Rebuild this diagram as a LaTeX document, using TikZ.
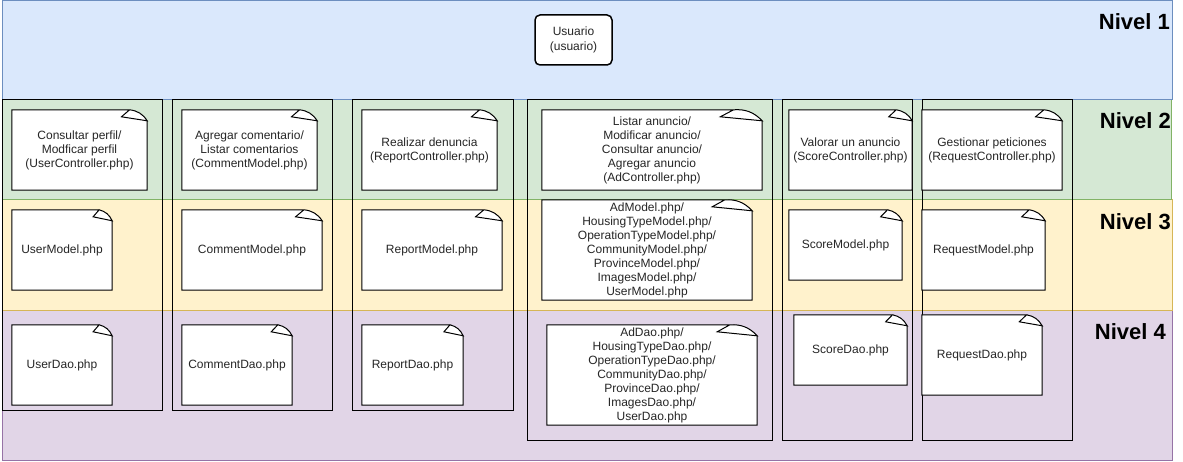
\documentclass[tikz,border=0pt]{standalone}
\usepackage{fontspec}
\setmainfont{Liberation Sans}
\usetikzlibrary{fit,calc}

\definecolor{bandblue}{HTML}{DAE8FC}
\definecolor{lineblue}{HTML}{6C8EBF}
\definecolor{bandgreen}{HTML}{D5E8D4}
\definecolor{linegreen}{HTML}{82B366}
\definecolor{bandyellow}{HTML}{FFF2CC}
\definecolor{lineyellow}{HTML}{D6B656}
\definecolor{bandpurple}{HTML}{E1D5E7}
\definecolor{linepurple}{HTML}{9673A6}

\pgfdeclarelayer{back}
\pgfdeclarelayer{paper}
\pgfsetlayers{back,paper,main}

% page outline with the curled corner, drawn behind the text of the node
\newcommand{\foldnote}[1]{%
  \begin{pgfonlayer}{paper}
  \draw[fill=white, line width=1pt] let \p1=(#1.north west), \p2=(#1.south east),
      \n1={0.13*(\x2-\x1)}, \n2={0.19*(\x2-\x1)} in
    (\x1,\y1) -- ({\x2-\n1},\y1) -- ({\x2-\n2},{\y1-7pt}) -- (\x2,{\y1-11pt})
      -- (\x2,\y2) -- (\x1,\y2) -- cycle
    ({\x2-\n1},\y1) -- ({\x2-\n2},{\y1-7pt}) -- (\x2,{\y1-11pt})
      to[bend right=25] ({\x2-\n1},\y1) -- cycle;
  \end{pgfonlayer}}

\begin{document}
\begin{tikzpicture}[x=1pt, y=-1pt,
    band/.style = {rectangle, inner sep=0, line width=1pt},
    column/.style = {rectangle, draw, inner sep=0, line width=1pt},
    note/.style = {rectangle, inner sep=0, align=center, text=black!85,
      font=\fontsize{12}{14}\selectfont},
    user/.style = {rectangle, draw, fill=white, rounded corners=5pt, line width=1.5pt,
      inner sep=0, align=center, text=black!85, font=\fontsize{12}{15}\selectfont},
    level/.style = {anchor=east, inner sep=0, font=\fontsize{22}{24}\bfseries}]
  \useasboundingbox (0,0) rectangle (1183,462);

  % levels
  \begin{pgfonlayer}{back}
    \node[band, fill=bandpurple, draw=linepurple, fit={(2,310) (1172,460)}] (b4) {};
    \node[band, fill=bandyellow, draw=lineyellow, fit={(2,200) (1172,310)}] (b3) {};
    \node[band, fill=bandgreen, draw=linegreen, fit={(2,100) (1171,200)}] (b2) {};
    \node[band, fill=bandblue, draw=lineblue, fit={(2,1) (1172,100)}] (b1) {};

    \node[column, fit={(2,100) (162,410)}] (k1) {};
    \node[column, fit={(172,100) (332,410)}] (k2) {};
    \node[column, fit={(352,100) (513,410)}] (k3) {};
    \node[column, fit={(527,100) (772,440)}] (k4) {};
    \node[column, fit={(782,100) (912,440)}] (k5) {};
    \node[column, fit={(922,100) (1072,440)}] (k6) {};
  \end{pgfonlayer}

  \node[level] (n1) at (1170,22) {Nivel 1};
  \node[level] (n2) at (1171,121) {Nivel 2};
  \node[level] (n3) at (1171,222) {Nivel 3};
  \node[level] (n4) at (1166,332) {Nivel 4};

  \node[user, minimum width=77, minimum height=50] (u) at (573.5,40) {Usuario\\(usuario)};

  \node[note, minimum width=135, minimum height=80] (c1) at (79.5,150) {Consultar perfil/\\Modficar perfil\\(UserController.php)};
  \node[note, minimum width=100, minimum height=80] (m1) at (62,250) {UserModel.php};
  \node[note, minimum width=100, minimum height=80] (d1) at (62,365) {UserDao.php};

  \node[note, minimum width=135, minimum height=80] (c2) at (249.5,150) {Agregar comentario/\\Listar comentarios\\(CommentModel.php)};
  \node[note, minimum width=140, minimum height=80] (m2) at (252,250) {CommentModel.php};
  \node[note, minimum width=110, minimum height=80] (d2) at (237,365) {CommentDao.php};

  \node[note, minimum width=135, minimum height=80] (c3) at (429.5,150) {Realizar denuncia\\(ReportController.php)};
  \node[note, minimum width=140, minimum height=80] (m3) at (432,250) {ReportModel.php};
  \node[note, minimum width=101, minimum height=80] (d3) at (412.5,365) {ReportDao.php};

  \node[note, minimum width=220, minimum height=80] (c4) at (652,150) {Listar anuncio/\\Modificar anuncio/\\Consultar anuncio/\\Agregar anuncio\\(AdController.php)};
  \node[note, minimum width=210, minimum height=100] (m4) at (647,250) {AdModel.php/\\HousingTypeModel.php/\\OperationTypeModel.php/\\CommunityModel.php/\\ProvinceModel.php/\\ImagesModel.php/\\UserModel.php};
  \node[note, minimum width=210, minimum height=100] (d4) at (652,375) {AdDao.php/\\HousingTypeDao.php/\\OperationTypeDao.php/\\CommunityDao.php/\\ProvinceDao.php/\\ImagesDao.php/\\UserDao.php};

  \node[note, minimum width=123, minimum height=80] (c5) at (850.5,150) {Valorar un anuncio\\(ScoreController.php)};
  \node[note, minimum width=113, minimum height=70] (m5) at (845.5,245) {ScoreModel.php};
  \node[note, minimum width=113, minimum height=70] (d5) at (850.5,350) {ScoreDao.php};

  \node[note, minimum width=140, minimum height=80] (c6) at (992,150) {Gestionar peticiones\\(RequestController.php)};
  \node[note, minimum width=123, minimum height=80] (m6) at (983.5,250) {RequestModel.php};
  \node[note, minimum width=120, minimum height=80] (d6) at (982,355) {RequestDao.php};

  \foreach \nm in {c1,m1,d1,c2,m2,d2,c3,m3,d3,c4,m4,d4,c5,m5,d5,c6,m6,d6}
    \foldnote{\nm};
\end{tikzpicture}
\end{document}
